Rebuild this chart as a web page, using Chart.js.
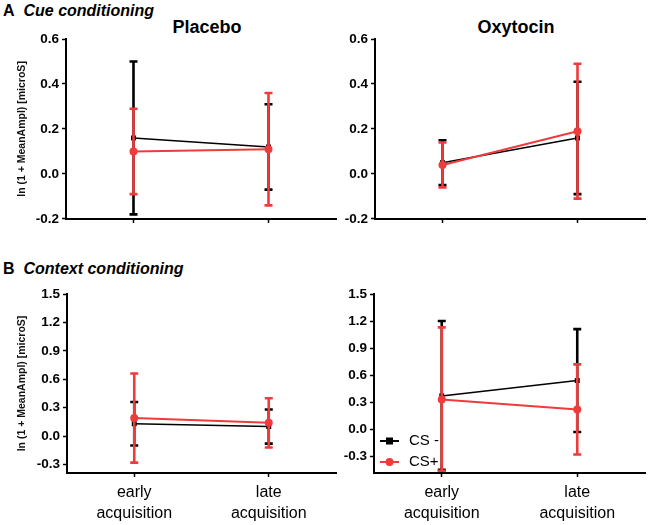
<!DOCTYPE html>
<html>
<head>
<meta charset="utf-8">
<script src="https://cdn.jsdelivr.net/npm/chart.js@4/dist/chart.umd.min.js"></script>
<style>
  html, body { margin:0; padding:0; background:#fff; }
  body { width:650px; height:525px; position:relative; overflow:hidden; font-family:"Liberation Sans", Arial, sans-serif; }
  canvas { position:absolute; }
  .hd { position:absolute; color:#000; white-space:nowrap; line-height:1; }
  .sec { font-size:16px; font-weight:bold; }
  .sec i { font-style:italic; }
  .ttl { font-size:18px; font-weight:bold; transform:translateX(-50%); }
</style>
</head>
<body>
<div class="hd sec" style="left:3px;top:3px;">A&nbsp;&nbsp;<i>Cue conditioning</i></div>
<div class="hd sec" style="left:3px;top:261px;">B&nbsp;&nbsp;<i>Context conditioning</i></div>
<div class="hd ttl" style="left:207px;top:18px;">Placebo</div>
<div class="hd ttl" style="left:516px;top:18px;">Oxytocin</div>

<canvas id="cA1" width="340" height="230" style="left:0;top:0;"></canvas>
<canvas id="cA2" width="340" height="230" style="left:310px;top:0;"></canvas>
<canvas id="cB1" width="340" height="285" style="left:0;top:240px;"></canvas>
<canvas id="cB2" width="340" height="285" style="left:310px;top:240px;"></canvas>

<script>
// ---------- data ----------
const categories = [['early', 'acquisition'], ['late', 'acquisition']];
const seriesNames = ['CS -', 'CS+'];
const yAxisTitle = 'ln (1 + MeanAmpl) [microS]';
const cueTicks = [-0.2, 0.0, 0.2, 0.4, 0.6];
const contextTicks = [-0.3, 0.0, 0.3, 0.6, 0.9, 1.2, 1.5];

// Cue conditioning – Placebo
const cuePlaceboMinus   = [0.16, 0.12];
const cuePlaceboMinusHi = [0.50, 0.31];
const cuePlaceboMinusLo = [-0.18, -0.07];
const cuePlaceboPlus    = [0.10, 0.11];
const cuePlaceboPlusHi  = [0.29, 0.36];
const cuePlaceboPlusLo  = [-0.09, -0.14];

// Cue conditioning – Oxytocin
const cueOxyMinus   = [0.05, 0.16];
const cueOxyMinusHi = [0.15, 0.41];
const cueOxyMinusLo = [-0.05, -0.09];
const cueOxyPlus    = [0.04, 0.19];
const cueOxyPlusHi  = [0.14, 0.49];
const cueOxyPlusLo  = [-0.06, -0.11];

// Context conditioning – Placebo
const ctxPlaceboMinus   = [0.13, 0.10];
const ctxPlaceboMinusHi = [0.36, 0.28];
const ctxPlaceboMinusLo = [-0.10, -0.08];
const ctxPlaceboPlus    = [0.19, 0.14];
const ctxPlaceboPlusHi  = [0.66, 0.40];
const ctxPlaceboPlusLo  = [-0.28, -0.12];

// Context conditioning – Oxytocin
const ctxOxyMinus   = [0.37, 0.54];
const ctxOxyMinusHi = [1.20, 1.11];
const ctxOxyMinusLo = [-0.45, -0.03];
const ctxOxyPlus    = [0.33, 0.22];
const ctxOxyPlusHi  = [1.13, 0.72];
const ctxOxyPlusLo  = [-0.46, -0.28];

// ---------- styling ----------
const FONT = '"Liberation Sans", Arial, sans-serif';
const BLACK = '#000000';
const RED = '#ee3b3b';

Chart.defaults.font.family = FONT;
Chart.defaults.color = '#000';

const errorBarPlugin = {
  id: 'errorBars',
  beforeDatasetDraw(chart, args) {
    const ds = chart.data.datasets[args.index];
    if (!ds.errLo) return;
    const meta = args.meta;
    const y = chart.scales.y;
    const ctx = chart.ctx;
    ctx.save();
    ctx.strokeStyle = ds.borderColor;
    ctx.lineWidth = 2.6;
    ctx.lineCap = 'butt';
    meta.data.forEach((pt, i) => {
      const x = pt.x;
      const yh = y.getPixelForValue(ds.errHi[i]);
      const yl = y.getPixelForValue(ds.errLo[i]);
      ctx.beginPath();
      ctx.moveTo(x, yh); ctx.lineTo(x, yl);
      ctx.moveTo(x - 4, yh); ctx.lineTo(x + 4, yh);
      ctx.moveTo(x - 4, yl); ctx.lineTo(x + 4, yl);
      ctx.stroke();
    });
    ctx.restore();
  }
};

const insideLegendPlugin = {
  id: 'insideLegend',
  afterDraw(chart, args, opts) {
    if (!opts || !opts.show) return;
    const ctx = chart.ctx;
    const a = chart.chartArea;
    const rows = [a.bottom - 32, a.bottom - 11];
    ctx.save();
    chart.data.datasets.forEach((ds, i) => {
      const yy = rows[i];
      const x0 = a.left + 6, x1 = a.left + 25, xm = (x0 + x1) / 2;
      ctx.strokeStyle = ds.borderColor;
      ctx.fillStyle = ds.backgroundColor;
      ctx.lineWidth = 2;
      ctx.beginPath(); ctx.moveTo(x0, yy); ctx.lineTo(x1, yy); ctx.stroke();
      if (ds.pointStyle === 'rect') {
        ctx.fillRect(xm - 3.5, yy - 3.5, 7, 7);
      } else {
        ctx.beginPath(); ctx.arc(xm, yy, 4, 0, Math.PI * 2); ctx.fill();
      }
      ctx.fillStyle = '#000';
      ctx.font = '15px ' + FONT;
      ctx.textBaseline = 'middle';
      ctx.textAlign = 'left';
      ctx.fillText(ds.label, a.left + 35, yy);
    });
    ctx.restore();
  }
};

function makePanel(id, p) {
  const datasets = [
    {
      label: seriesNames[0], data: p.minus, errHi: p.minusHi, errLo: p.minusLo,
      borderColor: BLACK, backgroundColor: BLACK, borderWidth: 1.5,
      pointStyle: 'rect', pointRadius: 3.5, pointBorderWidth: 0, order: 1
    },
    {
      label: seriesNames[1], data: p.plus, errHi: p.plusHi, errLo: p.plusLo,
      borderColor: RED, backgroundColor: RED, borderWidth: 2,
      pointStyle: 'circle', pointRadius: 4, pointBorderWidth: 0, order: 0
    }
  ];
  new Chart(document.getElementById(id), {
    type: 'line',
    data: { labels: categories, datasets },
    options: {
      responsive: false, animation: false, events: [],
      layout: { padding: { top: p.padTop, right: p.padRight, bottom: 0, left: 0 } },
      plugins: {
        legend: { display: false }, tooltip: { enabled: false },
        insideLegend: { show: !!p.legend }
      },
      scales: {
        x: {
          offset: true,
          grid: { drawOnChartArea: false, color: BLACK, tickLength: 4, tickWidth: 1.5 },
          border: { color: BLACK, width: 2 },
          ticks: {
            color: '#000', padding: 5, maxRotation: 0, autoSkip: false,
            font: { size: 16, lineHeight: 1.3 },
            callback: function (v, i) { return p.showX ? categories[i] : ''; }
          },
          afterFit: s => { s.height = p.xH; }
        },
        y: {
          min: p.min, max: p.max,
          afterBuildTicks: s => { s.ticks = p.ticks.map(v => ({ value: v })); },
          afterFit: s => { s.width = p.yW; },
          grid: { drawOnChartArea: false, color: BLACK, tickLength: 4, tickWidth: 1.5 },
          border: { color: BLACK, width: 2 },
          ticks: {
            color: '#000', padding: 3,
            font: { size: 13.5, weight: 'bold' },
            callback: v => Number(v).toFixed(1)
          },
          title: {
            display: !!p.yTitle, text: yAxisTitle, color: '#111',
            font: { size: 10.5, weight: 'bold' }, padding: { top: 16, bottom: 0 }
          }
        }
      }
    },
    plugins: [errorBarPlugin, insideLegendPlugin]
  });
}

makePanel('cA1', {
  minus: cuePlaceboMinus, minusHi: cuePlaceboMinusHi, minusLo: cuePlaceboMinusLo,
  plus: cuePlaceboPlus, plusHi: cuePlaceboPlusHi, plusLo: cuePlaceboPlusLo,
  min: -0.2, max: 0.6, ticks: cueTicks, padTop: 39, padRight: 4, yW: 66, xH: 11,
  yTitle: true, showX: false
});
makePanel('cA2', {
  minus: cueOxyMinus, minusHi: cueOxyMinusHi, minusLo: cueOxyMinusLo,
  plus: cueOxyPlus, plusHi: cueOxyPlusHi, plusLo: cueOxyPlusLo,
  min: -0.2, max: 0.6, ticks: cueTicks, padTop: 39, padRight: 5, yW: 65, xH: 11,
  yTitle: false, showX: false
});
makePanel('cB1', {
  minus: ctxPlaceboMinus, minusHi: ctxPlaceboMinusHi, minusLo: ctxPlaceboMinusLo,
  plus: ctxPlaceboPlus, plusHi: ctxPlaceboPlusHi, plusLo: ctxPlaceboPlusLo,
  min: -0.39, max: 1.5, ticks: contextTicks, padTop: 54, padRight: 4, yW: 67, xH: 52,
  yTitle: true, showX: true
});
makePanel('cB2', {
  minus: ctxOxyMinus, minusHi: ctxOxyMinusHi, minusLo: ctxOxyMinusLo,
  plus: ctxOxyPlus, plusHi: ctxOxyPlusHi, plusLo: ctxOxyPlusLo,
  min: -0.485, max: 1.5, ticks: contextTicks, padTop: 54, padRight: 5, yW: 64, xH: 52,
  yTitle: false, showX: true, legend: true
});
</script>
</body>
</html>
